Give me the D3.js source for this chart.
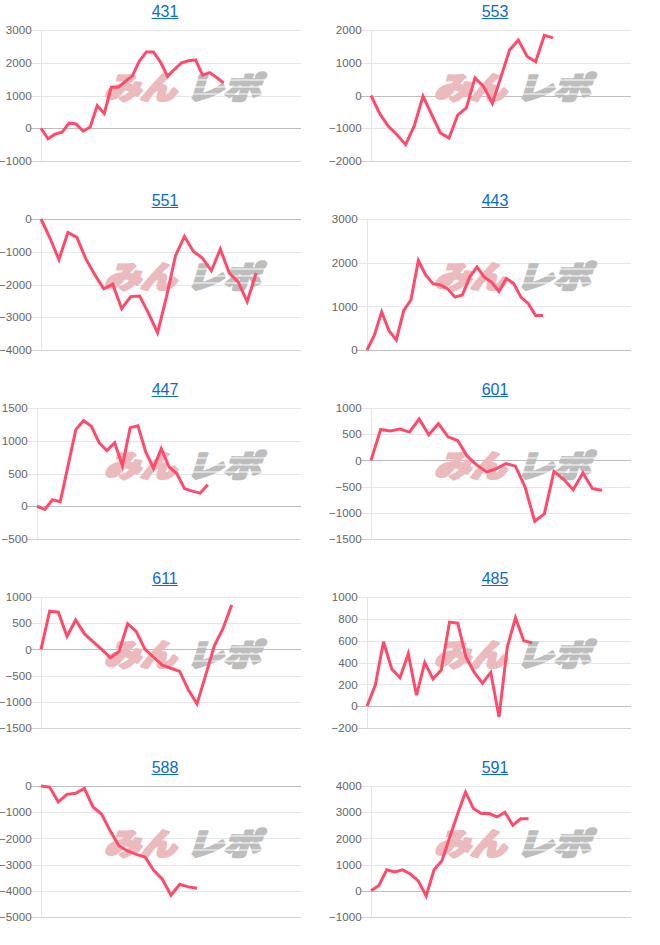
<!DOCTYPE html>
<html>
<head>
<meta charset="utf-8">
<script src="https://cdn.jsdelivr.net/npm/d3@7"></script>
<style>
  html, body { margin: 0; padding: 0; background: #fff; }
  svg { display: block; }
</style>
</head>
<body>
<svg id="chart" width="660" height="945"></svg>
<script>
// ---- data ----
const titles = ["431", "553", "551", "443", "447", "601", "611", "485", "588", "591"];
const slotCounts = [38, 31, 30, 37, 35, 28, 31, 33, 31, 34];
const yMins = [-1000, -2000, -4000, 0, -500, -1500, -1500, -200, -5000, -1000];
const yMaxs = [3000, 2000, 0, 3000, 1500, 1000, 1000, 1000, 0, 4000];
const yStepsArr = [1000, 1000, 1000, 1000, 500, 500, 500, 200, 1000, 1000];

const s431 = [0, -320, -180, -120, 160, 130, -90, 40, 690, 450, 1250, 1250, 1430, 1600, 2050, 2330, 2330, 2020, 1590, 1800, 2000, 2060, 2090, 1620, 1700, 1550, 1380];
const s553 = [0, -550, -940, -1200, -1500, -920, -20, -580, -1140, -1300, -600, -380, 540, 270, -240, 570, 1400, 1690, 1200, 1030, 1840, 1760];
const s551 = [0, -580, -1240, -410, -560, -1220, -1700, -2130, -1990, -2740, -2370, -2350, -2880, -3470, -2370, -1120, -530, -990, -1190, -1580, -920, -1650, -1930, -2520, -1650];
const s443 = [0, 340, 870, 440, 230, 900, 1150, 2050, 1720, 1520, 1490, 1400, 1210, 1260, 1670, 1900, 1670, 1550, 1340, 1640, 1520, 1210, 1060, 790, 790];
const s447 = [0, -50, 100, 70, 620, 1170, 1310, 1220, 970, 850, 970, 620, 1200, 1230, 830, 580, 880, 600, 500, 270, 230, 200, 330];
const s601 = [0, 590, 560, 600, 540, 790, 490, 700, 450, 380, 80, -90, -220, -160, -60, -110, -510, -1160, -1020, -210, -360, -560, -240, -540, -570];
const s611 = [0, 730, 710, 250, 560, 300, 150, 0, -160, -40, 490, 340, 0, -150, -300, -360, -420, -770, -1040, -490, 70, 400, 850];
const s485 = [0, 190, 590, 340, 260, 480, 100, 400, 250, 330, 770, 760, 450, 310, 210, 310, -100, 540, 810, 600, 580];
const s588 = [0, -40, -610, -320, -280, -90, -800, -1080, -1720, -2290, -2480, -2610, -2710, -3220, -3560, -4170, -3750, -3850, -3900];
const s591 = [0, 200, 800, 720, 800, 640, 380, -200, 800, 1150, 2050, 2940, 3770, 3140, 2950, 2950, 2820, 3000, 2500, 2750, 2750];

const seriesList = [s431, s553, s551, s443, s447, s601, s611, s485, s588, s591];

// ---- drawing ----
const svg = d3.select("#chart");
const colW = 330, rowH = 189;
const plotTop = 30, plotBottom = 161, plotRight = 301;
const lineColor = "#ff4b6b";
const labelFont = "'Liberation Sans', Arial, Helvetica, sans-serif";

titles.forEach((title, i) => {
  const col = i % 2, row = Math.floor(i / 2);
  const g = svg.append("g").attr("transform", `translate(${col * colW},${row * rowH})`);
  const yMin = yMins[i], yMax = yMaxs[i], step = yStepsArr[i];
  const ticks = d3.range(yMin, yMax + step / 2, step);
  const maxLabelLen = d3.max(ticks, t => String(t).length);
  const plotLeft = maxLabelLen >= 5 ? 41 : 37;

  const x = d3.scalePoint()
    .domain(d3.range(slotCounts[i]))
    .range([plotLeft, plotRight]);
  const y = d3.scaleLinear().domain([yMin, yMax]).range([plotBottom, plotTop]);

  // y axis with gridlines
  const yAxis = d3.axisLeft(y)
    .tickValues(ticks)
    .tickSize(-(plotRight - plotLeft))
    .tickSizeOuter(0)
    .tickFormat(d3.format("d"));
  const ax = g.append("g")
    .attr("transform", `translate(${plotLeft},0)`)
    .call(yAxis);
  ax.select(".domain").remove();
  ax.selectAll(".tick line")
    .attr("x1", -10)
    .attr("stroke", d => d === 0 ? "#bdbdbd" : (d === yMin ? "#d2d2d2" : "#e6e6e6"))
    .attr("stroke-width", 1)
    .attr("shape-rendering", "crispEdges");
  ax.selectAll(".tick text")
    .attr("fill", "#666")
    .attr("font-size", 11.6)
    .attr("x", -9.4)
    .attr("font-family", labelFont);

  // left axis line
  g.append("line")
    .attr("x1", plotLeft).attr("x2", plotLeft)
    .attr("y1", plotTop).attr("y2", plotBottom)
    .attr("stroke", "#e6e6e6")
    .attr("shape-rendering", "crispEdges");

  // watermark
  const wm = g.append("g");
  wm.append("text")
    .attr("transform", "translate(104,99) scale(1,0.8) skewX(-14)")
    .attr("font-family", "'Noto Sans CJK JP', sans-serif")
    .attr("font-weight", 900)
    .attr("font-size", 38)
    .attr("textLength", 72)
    .attr("lengthAdjust", "spacingAndGlyphs")
    .attr("fill", "#ebbabd")
    .attr("stroke", "#ebbabd")
    .attr("stroke-width", 3.2)
    .attr("stroke-linejoin", "round")
    .text("みん");
  wm.append("text")
    .attr("transform", "translate(186,99) scale(1,0.8) skewX(-14)")
    .attr("font-family", "'Noto Sans CJK JP', sans-serif")
    .attr("font-weight", 900)
    .attr("font-size", 38)
    .attr("textLength", 74)
    .attr("lengthAdjust", "spacingAndGlyphs")
    .attr("fill", "#bdbdbd")
    .attr("stroke", "#bdbdbd")
    .attr("stroke-width", 3.2)
    .attr("stroke-linejoin", "round")
    .text("レポ");
  // speed-line cuts through the gray part
  [80, 87, 94].forEach(yy => {
    wm.append("line")
      .attr("x1", 182).attr("x2", 266)
      .attr("y1", yy).attr("y2", yy)
      .attr("stroke", "#fff")
      .attr("stroke-width", 1.2);
  });

  // line
  const data = seriesList[i];
  const line = d3.line()
    .x((d, k) => x(k))
    .y(d => y(d));
  g.append("path")
    .datum(data)
    .attr("fill", "none")
    .attr("stroke", lineColor)
    .attr("stroke-width", 3)
    .attr("stroke-linejoin", "miter")
    .attr("stroke-linecap", "butt")
    .attr("d", line);

  // title (link style)
  const t = g.append("text")
    .attr("x", colW / 2)
    .attr("y", 17)
    .attr("text-anchor", "middle")
    .attr("font-family", labelFont)
    .attr("font-size", 16)
    .attr("fill", "#0d6ad0")
    .text(title);
  const w = t.node().getComputedTextLength();
  g.append("line")
    .attr("x1", colW / 2 - w / 2).attr("x2", colW / 2 + w / 2)
    .attr("y1", 18.5).attr("y2", 18.5)
    .attr("stroke", "#0d6ad0")
    .attr("stroke-width", 1);
});
</script>
</body>
</html>
